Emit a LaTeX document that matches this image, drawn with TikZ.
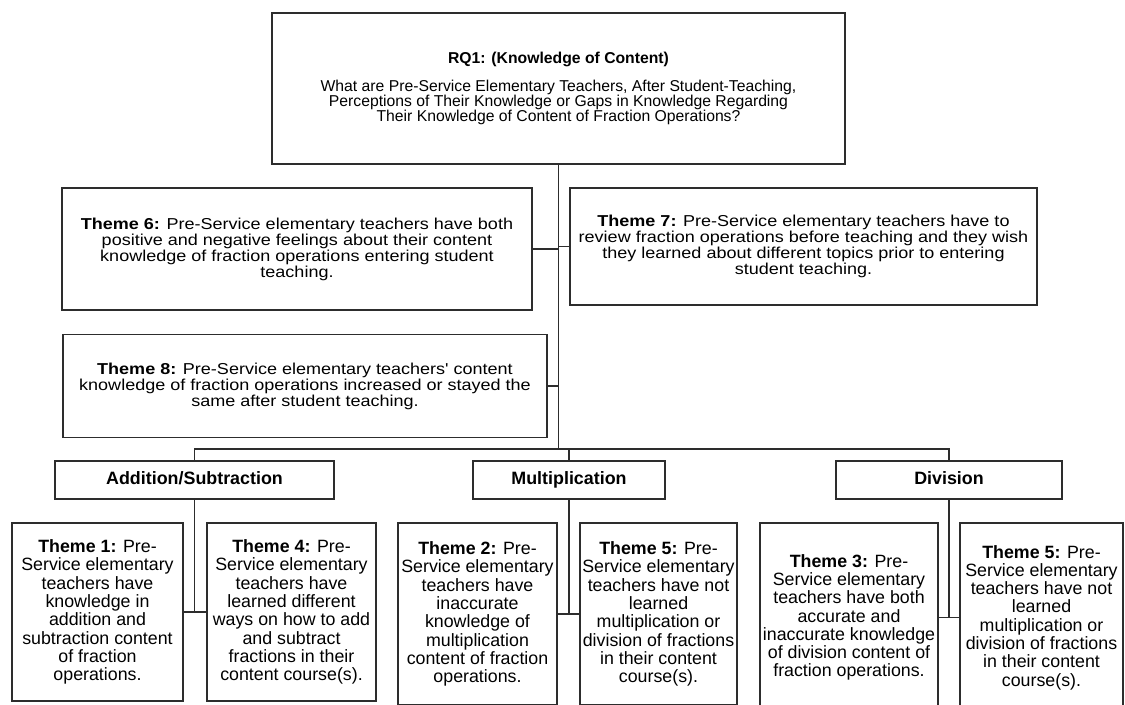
\documentclass[tikz,border=0pt]{standalone}
\usepackage{fontspec}
\setmainfont{Liberation Sans}
\newfontfamily\widesans[FakeStretch=1.14]{Liberation Sans}
\definecolor{linec}{RGB}{45,45,45}
\begin{document}
\begin{tikzpicture}[x=0.75pt,y=-0.75pt,
  box/.style={draw=linec, line width=0.9pt, fill=white, align=center, inner sep=0pt},
  rqbox/.style={box, font=\fontsize{11.8pt}{11.3pt}\selectfont},
  widebox/.style={box, font=\widesans\fontsize{11.85pt}{12pt}\selectfont},
  headbox/.style={box, font=\bfseries\fontsize{13.4pt}{14pt}\selectfont, text height=9.8pt, text depth=2.6pt},
  themebox/.style={box, font=\fontsize{13.35pt}{13.7pt}\selectfont},
  link/.style={draw=linec, line width=0.9pt}]
\useasboundingbox (0,0) rectangle (1125,705);
\clip (0,0) rectangle (1125,705);

% research question
\node[rqbox, minimum width={573*0.75pt}, minimum height={151*0.75pt}] (rq) at (558.5,88.5)
  {\textbf{RQ1: (Knowledge of Content)}\\[9.5pt]
   What are Pre-Service Elementary Teachers, After Student-Teaching,\\
   Perceptions of Their Knowledge or Gaps in Knowledge Regarding\\
   Their Knowledge of Content of Fraction Operations?};

% general themes
\node[widebox, minimum width={470*0.75pt}, minimum height={122*0.75pt}] (t6) at (297,249)
  {\textbf{Theme 6:} Pre-Service elementary teachers have both\\
   positive and negative feelings about their content\\
   knowledge of fraction operations entering student\\
   teaching.};
\node[widebox, minimum width={467*0.75pt}, minimum height={117*0.75pt}] (t7) at (803.5,246.5)
  {\textbf{Theme 7:} Pre-Service elementary teachers have to\\
   review fraction operations before teaching and they wish\\
   they learned about different topics prior to entering\\
   student teaching.};
\node[widebox, minimum width={484*0.75pt}, minimum height={103*0.75pt}] (t8) at (305,386)
  {\textbf{Theme 8:} Pre-Service elementary teachers' content\\
   knowledge of fraction operations increased or stayed the\\
   same after student teaching.};

% operation headers
\node[headbox, minimum width={279*0.75pt}, minimum height={38*0.75pt}] (add) at (194.5,480) {Addition/Subtraction};
\node[headbox, minimum width={192*0.75pt}, minimum height={38*0.75pt}] (mult) at (569,480) {Multiplication};
\node[headbox, minimum width={226*0.75pt}, minimum height={38*0.75pt}] (div) at (949,480) {Division};

% themes per operation
\node[themebox, minimum width={171*0.75pt}, minimum height={178*0.75pt}] (t1) at (97.5,612)
  {\textbf{Theme 1:} Pre-\\Service elementary\\teachers have\\knowledge in\\addition and\\subtraction content\\of fraction\\operations.};
\node[themebox, minimum width={169*0.75pt}, minimum height={178*0.75pt}] (t4) at (291.5,612)
  {\textbf{Theme 4:} Pre-\\Service elementary\\teachers have\\learned different\\ways on how to add\\and subtract\\fractions in their\\content course(s).};
\node[themebox, minimum width={159*0.75pt}, minimum height={182*0.75pt}] (t2) at (477.5,614)
  {\textbf{Theme 2:} Pre-\\Service elementary\\teachers have\\inaccurate\\knowledge of\\multiplication\\content of fraction\\operations.};
\node[themebox, minimum width={157*0.75pt}, minimum height={182*0.75pt}] (t5m) at (658.5,614)
  {\textbf{Theme 5:} Pre-\\Service elementary\\teachers have not\\learned\\multiplication or\\division of fractions\\in their content\\course(s).};
\node[themebox, minimum width={178*0.75pt}, minimum height={189*0.75pt}] (t3) at (849,617.5)
  {\textbf{Theme 3:} Pre-\\Service elementary\\teachers have both\\accurate and\\inaccurate knowledge\\of division content of\\fraction operations.};
\node[themebox, minimum width={163*0.75pt}, minimum height={189*0.75pt}] (t5d) at (1041.5,617.5)
  {\textbf{Theme 5:} Pre-\\Service elementary\\teachers have not\\learned\\multiplication or\\division of fractions\\in their content\\course(s).};

% trunk and bus
\coordinate (busL) at (194.5,449);
\coordinate (trunk) at (rq.south |- busL);
\draw[link] (rq.south) -- (trunk);
\draw[link] (add.north) -- (add.north |- busL) -- (div.north |- busL) -- (div.north);
\draw[link] (mult.north) -- (mult.north |- busL);

% side themes to trunk
\draw[link] (t6.east) -- (t6.east -| rq.south);
\draw[link] (t7.west) -- (t7.west -| rq.south);
\draw[link] (t8.east) -- (t8.east -| rq.south);

% operation groups
\draw[link] (add.south) -- (add.south |- t1.east);
\draw[link] (t1.east) -- (t4.west);
\draw[link] (mult.south) -- (mult.south |- t2.east);
\draw[link] (t2.east) -- (t5m.west);
\draw[link] (div.south) -- (div.south |- t3.east);
\draw[link] (t3.east) -- (t5d.west);
\end{tikzpicture}
\end{document}
